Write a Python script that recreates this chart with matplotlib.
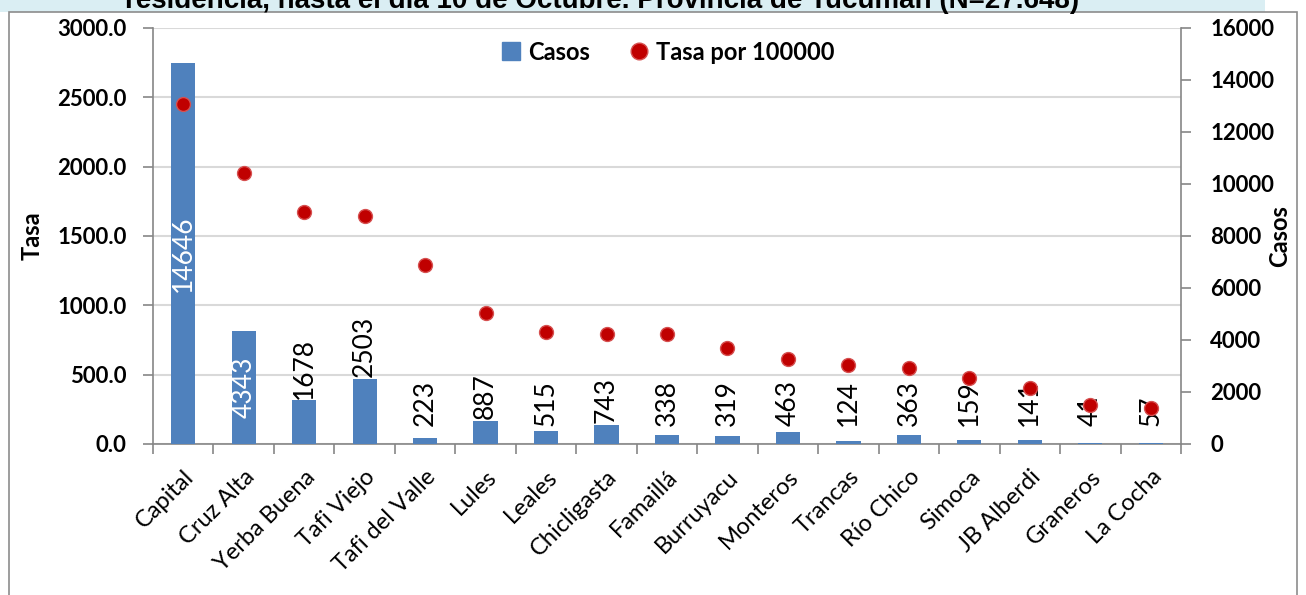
import numpy as np
import matplotlib
matplotlib.use("Agg")
import matplotlib.pyplot as plt
from matplotlib.patches import Rectangle
from matplotlib.lines import Line2D

# datos
departamentos = ["Capital", "Cruz Alta", "Yerba Buena", "Tafi Viejo", "Tafi del Valle",
                 "Lules", "Leales", "Chicligasta", "Famaillá", "Burruyacu", "Monteros",
                 "Trancas", "Río Chico", "Simoca", "JB Alberdi", "Graneros", "La Cocha"]
casos = [14646, 4343, 1678, 2503, 223, 887, 515, 743, 338, 319, 463, 124, 363, 159, 141, 41, 57]
tasa = [2450, 1955, 1673, 1645, 1290, 945, 808, 795, 793, 692, 613, 570, 548, 476, 404, 281, 260]
tasa_ticks = [0, 500, 1000, 1500, 2000, 2500, 3000]
casos_ticks = [0, 2000, 4000, 6000, 8000, 10000, 12000, 14000, 16000]
titulo = "residencia, hasta el día 10 de Octubre. Provincia de Tucumán (N=27.648)"

azul = "#4F81BD"
rojo = "#C00000"
gris = "#868686"
fuente = "Lato"

fig = plt.figure(figsize=(13.06, 5.95), dpi=100)
fig.patch.set_facecolor("white")

# banda del titulo (cortada arriba) y marco del grafico
fig.patches.append(Rectangle((0, 1 - 12 / 595), 1265 / 1306, 12 / 595, transform=fig.transFigure,
                             facecolor="#DAEEF3", edgecolor="none", zorder=0))
fig.patches.append(Rectangle((9 / 1306, -0.01), (1297 - 9) / 1306, 1.01 - 12 / 595,
                             transform=fig.transFigure, facecolor="none",
                             edgecolor="#8C8C8C", lw=1.2, zorder=1))
fig.text(602 / 1306, 1 - 8 / 595, titulo, ha="center", va="baseline",
         fontsize=20, fontweight="bold", family="Liberation Sans", color="black")

rect = [153 / 1306, 1 - 444 / 595, (1181 - 153) / 1306, (444 - 28) / 595]
ax = fig.add_axes(rect)          # eje Tasa + grilla
ax_b = ax.twinx()                # barras (Casos)
ax_p = ax.twinx()                # puntos (Tasa) encima

x = np.arange(len(departamentos))

# eje izquierdo
ax.set_ylim(0, 3000)
ax.set_xlim(-0.5, len(departamentos) - 0.5)
ax.set_yticks(tasa_ticks)
ax.set_yticklabels([f"{t:.1f}" for t in tasa_ticks], fontsize=16, fontweight="bold", family=fuente)
ax.yaxis.grid(True, color="#D9D9D9", lw=1.5)
ax.set_axisbelow(True)
ax.tick_params(axis="y", direction="out", length=7, width=1.2, color=gris, pad=12)
ax.set_ylabel("Tasa", fontsize=17, fontweight="bold", family=fuente)
ax.yaxis.set_label_coords(-(153 - 44) / 1028, 0.5)
ax.set_xticks(x)
ax.set_xticklabels(departamentos, rotation=45, ha="right", rotation_mode="anchor",
                   fontsize=17, family=fuente)
ax.set_xticks(np.arange(-0.5, len(departamentos)), minor=True)
ax.tick_params(axis="x", which="major", length=0, pad=16)
ax.tick_params(axis="x", which="minor", direction="out", length=7, width=1.2, color=gris)
for s in ["top", "right"]:
    ax.spines[s].set_visible(False)
for s in ["left", "bottom"]:
    ax.spines[s].set_color(gris)
    ax.spines[s].set_linewidth(1.2)

# barras
ax_b.bar(x, casos, width=0.4, color=azul, zorder=2)
ax_b.set_ylim(0, 16000)
ax_b.set_yticks(casos_ticks)
ax_b.set_yticklabels([str(c) for c in casos_ticks], fontsize=16, fontweight="bold", family=fuente)
ax_b.tick_params(axis="y", direction="out", length=7, width=1.2, color=gris, pad=14)
ax_b.set_ylabel("Casos", fontsize=17, fontweight="bold", family=fuente)
ax_b.yaxis.set_label_coords((1268 - 153) / 1028, 0.5)
for s in ["top", "left", "bottom"]:
    ax_b.spines[s].set_visible(False)
ax_b.spines["right"].set_color(gris)
ax_b.spines["right"].set_linewidth(1.2)

for i, v in enumerate(casos):
    if v > 4000:
        ax_b.text(i, v / 2, str(v), rotation=90, ha="center", va="center",
                  color="white", fontsize=19, family=fuente)
    else:
        ax_b.text(i, max(v, 650) + 60, str(v), rotation=90, ha="center", va="bottom",
                  color="black", fontsize=19, family=fuente)

# puntos
ax_p.plot(x, tasa, "o", color=rojo, markersize=10, markeredgecolor="#D65050",
          markeredgewidth=1, zorder=3)
ax_p.set_ylim(0, 3000)
ax_p.axis("off")

# leyenda
handles = [Line2D([], [], marker="s", ls="none", color=azul, markersize=13),
           Line2D([], [], marker="o", ls="none", color=rojo, markeredgecolor="#D65050",
                  markersize=12)]
ax_p.legend(handles, ["Casos", "Tasa por 100000"], loc="center", bbox_to_anchor=(0.5, 0.942),
            ncol=2, frameon=False, prop={"family": fuente, "weight": "bold", "size": 17},
            handletextpad=0.2, columnspacing=1.6, handlelength=1.0)

fig.savefig("out.png", dpi=100)
